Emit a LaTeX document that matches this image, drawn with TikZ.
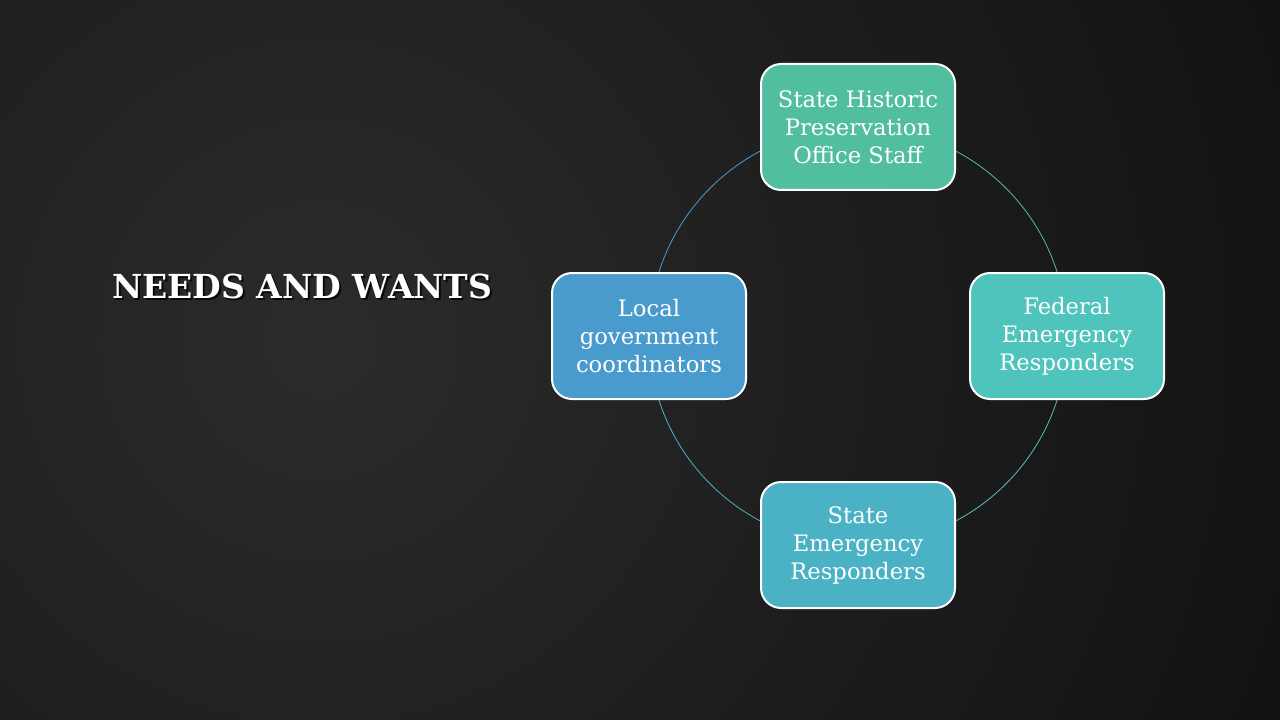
\documentclass[tikz,border=0pt]{standalone}
\usepackage{fontspec}
\setmainfont{DejaVu Serif}
\usepackage{tikz}
\usetikzlibrary{backgrounds}
\pgfdeclarelayer{backdrop}
\pgfsetlayers{backdrop,background,main}

\definecolor{bginner}{HTML}{2B2B2B}
\definecolor{bgouter}{HTML}{111111}
\definecolor{shpo}{HTML}{52BEA0}
\definecolor{fema}{HTML}{4FC4BD}
\definecolor{sem}{HTML}{4BB2C5}
\definecolor{locgov}{HTML}{4A9BCD}

\begin{document}
\begin{tikzpicture}[
  x=0.75pt, y=-0.75pt,
  card/.style={draw=white, fill=#1, line width=1.5pt, rounded corners=15pt, align=center,
    minimum width=145.5pt, minimum height=94.5pt, inner sep=2pt, text=white,
    font=\fontsize{17}{21}\selectfont},
  ring/.style={draw=#1, line width=0.6pt},
  heading/.style={anchor=west, font=\fontsize{24.8}{28}\selectfont\bfseries, inner sep=0pt},
]
\useasboundingbox (0,0) rectangle (1280,720);
% ---- backdrop ----
\begin{pgfonlayer}{backdrop}
  \fill[bgouter] (0,0) rectangle (1280,720);
  \begin{scope}
    \clip (0,0) rectangle (1280,720);
    \shade[inner color=bginner, outer color=bgouter] (320,340) circle[radius=1050];
  \end{scope}
\end{pgfonlayer}

% ---- title ----
\node[heading, text=black, opacity=0.75] (titleshadow) at (114,288) {NEEDS AND WANTS};
\node[heading, text=white] (title) at (112,286) {NEEDS AND WANTS};

% ---- cycle ----
\node[card=shpo]   (shpo)   at (858,127) {State Historic\\Preservation\\Office Staff};
\node[card=fema]   (fema)   at (1067,336) {Federal\\Emergency\\Responders};
\node[card=sem]    (sem)    at (858,545) {State\\Emergency\\Responders};
\node[card=locgov] (locgov) at (649,336) {Local\\government\\coordinators};

\begin{scope}[on background layer]
  \draw[ring=locgov] (locgov.center) to[bend left=45] (shpo.center);
  \draw[ring=shpo]   (shpo.center) to[bend left=45] (fema.center);
  \draw[ring=fema]   (fema.center) to[bend left=45] (sem.center);
  \draw[ring=sem]    (sem.center) to[bend left=45] (locgov.center);
\end{scope}
\end{tikzpicture}
\end{document}
